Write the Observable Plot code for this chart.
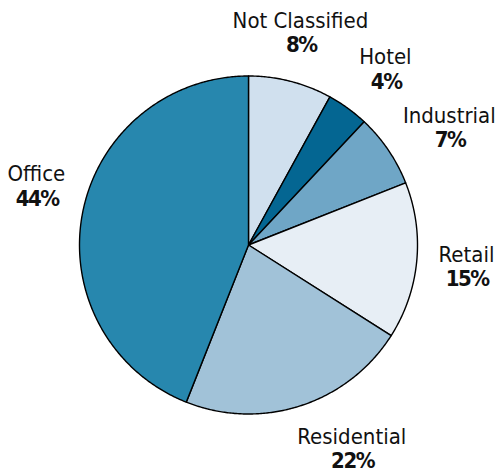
<!DOCTYPE html>
<html>
<head>
<meta charset="utf-8">
<script src="https://cdn.jsdelivr.net/npm/d3@7"></script>
<script src="https://cdn.jsdelivr.net/npm/@observablehq/plot@0.6"></script>
<style>
  html, body { margin: 0; padding: 0; background: #ffffff; }
  #chart svg { display: block; }
  #chart svg [font-weight="bold"] text, #chart svg text[font-weight="bold"] { letter-spacing: -1.5px; }
</style>
</head>
<body>
<div id="chart"></div>
<script>
// ---- data ----
const categories = ["Not Classified", "Hotel", "Industrial", "Retail", "Residential", "Office"];
const shares = [8, 4, 7, 15, 22, 44];
const percentLabels = ["8%", "4%", "7%", "15%", "22%", "44%"];
const sliceColors = ["#d0e0ee", "#046692", "#6fa6c6", "#e7eef5", "#a1c2d8", "#2787ae"];
// hand-placement nudges for the labels (pixels, dx / dy)
const labelNudge = [[-3, 2], [7, 3], [18, 7], [-2, 1], [35, -6], [5, -17]];

// ---- layout ----
const W = 498, H = 474;
const CX = 248, CY = 244.5, R = 169;   // pie centre & radius in pixels
const LABEL_R = 221 / R;              // label distance in units of radius

const arcs = d3.pie().sort(null).value(d => d)(shares);

// slice outlines in unit coordinates (y up)
const slicePts = [];
arcs.forEach((a, i) => {
  const cat = categories[i];
  slicePts.push({cat, x: 0, y: 0});
  const n = Math.max(2, Math.ceil((a.endAngle - a.startAngle) / (Math.PI / 360)));
  for (let k = 0; k <= n; k++) {
    const t = a.startAngle + (a.endAngle - a.startAngle) * k / n;
    slicePts.push({cat, x: Math.sin(t), y: Math.cos(t)});
  }
});

const labels = arcs.map((a, i) => {
  const m = (a.startAngle + a.endAngle) / 2;
  return {
    cat: categories[i],
    pct: percentLabels[i],
    x: Math.sin(m) * LABEL_R + labelNudge[i][0] / R,
    y: Math.cos(m) * LABEL_R - labelNudge[i][1] / R
  };
});

const FONT = "'Liberation Sans Narrow', 'DejaVu Sans Condensed', sans-serif";

const chart = Plot.plot({
  width: W,
  height: H,
  margin: 0,
  style: {background: "#ffffff", fontFamily: FONT},
  x: {domain: [-CX / R, (W - CX) / R], axis: null},
  y: {domain: [-(H - CY) / R, CY / R], axis: null},
  color: {domain: categories, range: sliceColors},
  marks: [
    Plot.line(slicePts, {
      x: "x", y: "y", z: "cat",
      fill: "cat",
      stroke: "#000000",
      strokeWidth: 1.4,
      strokeLinejoin: "round",
      curve: "linear-closed"
    }),
    Plot.text(labels, {
      x: "x", y: "y", text: "cat",
      dy: -12.25,
      fontSize: 22,
      fill: "#111111",
      fontFamily: FONT,
      textAnchor: "middle"
    }),
    Plot.text(labels, {
      x: "x", y: "y", text: "pct",
      dy: 12.25,
      dx: 0.75,
      fontSize: 22,
      fontWeight: "bold",
      fill: "#111111",
      fontFamily: FONT,
      textAnchor: "middle"
    })
  ]
});

document.getElementById("chart").appendChild(chart);
</script>
</body>
</html>
